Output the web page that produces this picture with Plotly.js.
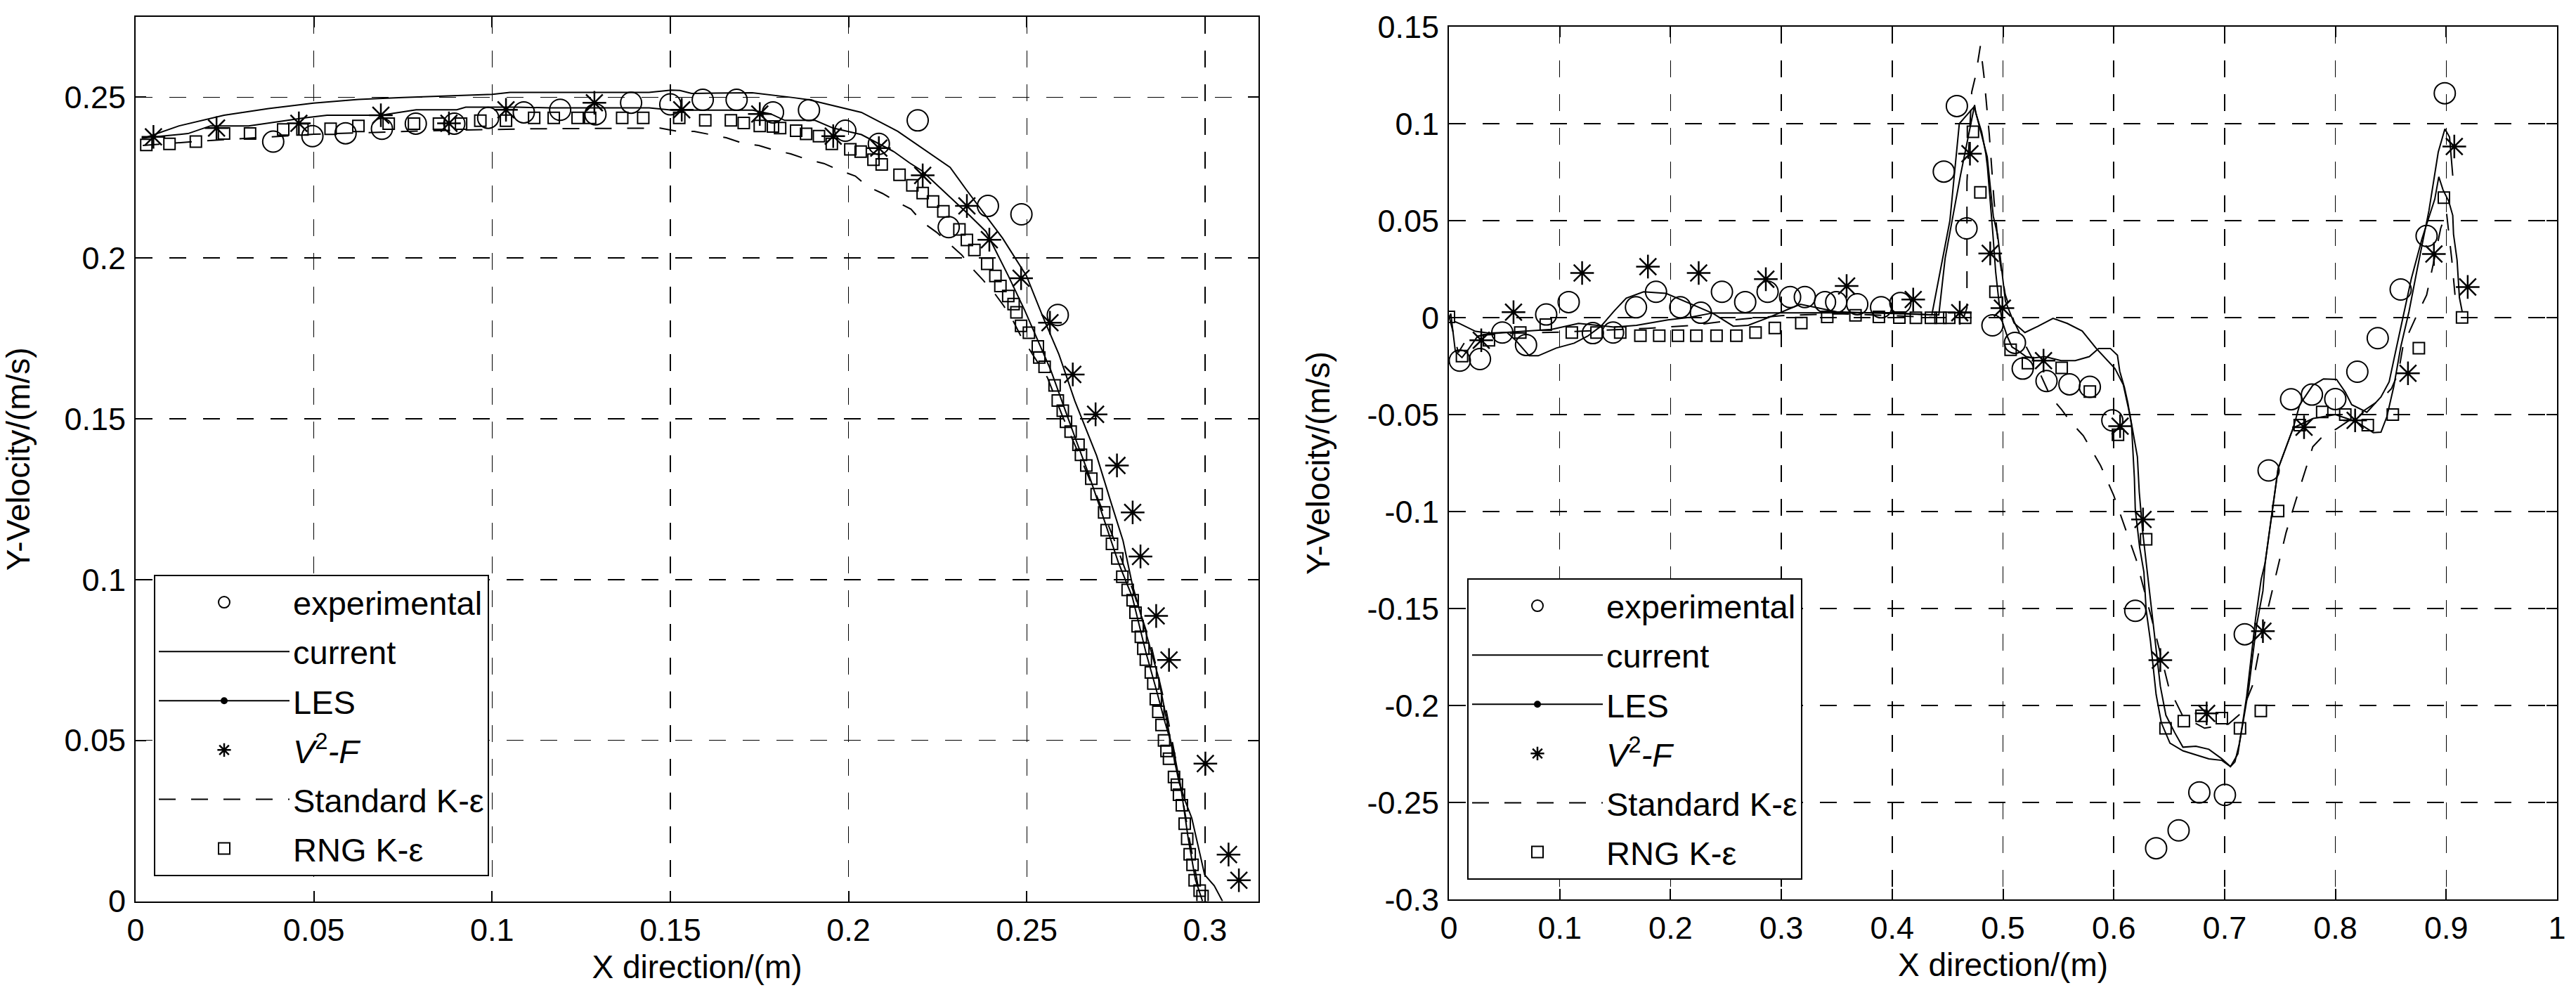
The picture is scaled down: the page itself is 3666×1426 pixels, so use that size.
<!DOCTYPE html>
<html><head><meta charset="utf-8">
<script src="https://cdn.plot.ly/plotly-3.0.1.min.js"></script>
<style>html,body{margin:0;padding:0;background:#fff}#chart{width:3666px;height:1426px}</style>
</head><body><div id="chart"></div><script>
// ---------------- LEFT PANEL DATA ----------------
const leftExpX = [0.0386,0.0496,0.0589,0.0691,0.0786,0.0894,0.0989,0.1089,0.1191,0.1290,0.1390,0.1500,0.1591,0.1686,0.1788,0.1889,0.1991,0.2085,0.2194,0.2281,0.2391,0.2485,0.2587];
const leftExpY = [0.2362,0.2379,0.2388,0.2402,0.2418,0.2418,0.2436,0.2453,0.2461,0.2447,0.2483,0.2478,0.2492,0.2492,0.2453,0.2460,0.2396,0.2355,0.2428,0.2096,0.2162,0.2136,0.1823];

const leftCurX = [0.0024,0.0122,0.0248,0.0373,0.0499,0.0625,0.0750,0.1001,0.1050,0.1440,0.1503,0.1527,0.1560,0.1730,0.1844,0.1889,0.2036,0.2138,0.2285,0.2330,0.2432,0.2499,0.2545,0.2590,0.2635,0.2658,0.2696,0.2734,0.2770,0.2796,0.2835,0.2868,0.2894,0.2907,0.2927,0.2945,0.2963,0.2985,0.2999,0.3026,0.3049];
const leftCurY = [0.2373,0.2411,0.2444,0.2465,0.2482,0.2493,0.2499,0.2509,0.2515,0.2515,0.2522,0.2521,0.2512,0.2514,0.2499,0.2492,0.2453,0.2394,0.2282,0.2213,0.2062,0.1945,0.1818,0.1701,0.1555,0.1492,0.1385,0.1248,0.1121,0.0985,0.0829,0.0702,0.0555,0.0477,0.0370,0.0310,0.0258,0.0150,0.0082,0.0048,0.0000];

const leftLesX = [0.0017,0.0085,0.0147,0.0210,0.0317,0.0474,0.0537,0.0688,0.0787,0.0901,0.0926,0.1070,0.1164,0.1441,0.1505,0.1731,0.1782,0.1821,0.1906,0.1957,0.2036,0.2127,0.2171,0.2205,0.2281,0.2341,0.2386,0.2448,0.2494,0.2567,0.2638,0.2671,0.2704,0.2734,0.2757,0.2796,0.2835,0.2862,0.2888,0.2914,0.2934,0.2953,0.2973,0.2993];
const leftLesY = [0.2373,0.2381,0.2387,0.2411,0.2411,0.2436,0.2444,0.2444,0.2461,0.2461,0.2469,0.2469,0.2467,0.2467,0.2460,0.2460,0.2448,0.2428,0.2428,0.2404,0.2384,0.2331,0.2296,0.2272,0.2194,0.2131,0.2082,0.1945,0.1838,0.1652,0.1434,0.1336,0.1229,0.1131,0.1053,0.0946,0.0770,0.0663,0.0555,0.0458,0.0340,0.0194,0.0067,0.0000];

const leftV2fX = [0.0050,0.0227,0.0458,0.0688,0.0879,0.1039,0.1287,0.1532,0.1751,0.1957,0.2085,0.2208,0.2332,0.2395,0.2484,0.2565,0.2629,0.2693,0.2753,0.2797,0.2819,0.2863,0.2899,0.3001,0.3066,0.3095];
const leftV2fY = [0.2377,0.2404,0.2419,0.2444,0.2419,0.2461,0.2483,0.2461,0.2448,0.2379,0.2342,0.2257,0.2162,0.2057,0.1937,0.1799,0.1638,0.1514,0.1355,0.1209,0.1072,0.0887,0.0750,0.0428,0.0145,0.0065];

const leftSkeX = [0.0020,0.0200,0.0500,0.0800,0.1100,0.1426,0.1471,0.1522,0.1567,0.1612,0.1657,0.1703,0.1748,0.1793,0.1838,0.1885,0.1931,0.1976,0.2019,0.2053,0.2095,0.2137,0.2175,0.2208,0.2247,0.2282,0.2318,0.2344,0.2377,0.2409,0.2435,0.2460,0.2482,0.2558,0.2601,0.2650,0.2700,0.2750,0.2800,0.2850,0.2890,0.2925,0.2955,0.2980,0.2990];
const leftSkeY = [0.2350,0.2365,0.2385,0.2395,0.2402,0.2404,0.2404,0.2394,0.2394,0.2384,0.2374,0.2357,0.2350,0.2335,0.2324,0.2306,0.2294,0.2272,0.2255,0.2223,0.2201,0.2174,0.2152,0.2111,0.2080,0.2045,0.2009,0.1971,0.1932,0.1891,0.1852,0.1808,0.1760,0.1628,0.1506,0.1380,0.1250,0.1110,0.0960,0.0790,0.0600,0.0400,0.0200,0.0050,0.0000];

const leftRngX = [0.0030,0.0095,0.0169,0.0248,0.0321,0.0414,0.0468,0.0547,0.0625,0.0710,0.0781,0.0851,0.0913,0.0967,0.1039,0.1118,0.1173,0.1240,0.1275,0.1365,0.1424,0.1525,0.1598,0.1670,0.1706,0.1751,0.1788,0.1808,0.1853,0.1881,0.1917,0.1953,0.2005,0.2034,0.2070,0.2093,0.2143,0.2179,0.2208,0.2237,0.2266,0.2311,0.2332,0.2353,0.2389,0.2412,0.2426,0.2448,0.2463,0.2471,0.2484,0.2506,0.2531,0.2535,0.2550,0.2578,0.2587,0.2601,0.2610,0.2623,0.2645,0.2652,0.2667,0.2681,0.2696,0.2717,0.2724,0.2739,0.2754,0.2768,0.2783,0.2797,0.2805,0.2811,0.2820,0.2827,0.2834,0.2848,0.2855,0.2862,0.2869,0.2878,0.2885,0.2892,0.2899,0.2913,0.2921,0.2927,0.2935,0.2943,0.2950,0.2957,0.2965,0.2971,0.2985,0.2993];
const leftRngY = [0.2352,0.2355,0.2362,0.2387,0.2387,0.2400,0.2400,0.2402,0.2411,0.2418,0.2418,0.2418,0.2418,0.2427,0.2427,0.2436,0.2436,0.2436,0.2436,0.2436,0.2436,0.2436,0.2428,0.2428,0.2420,0.2411,0.2409,0.2404,0.2396,0.2386,0.2379,0.2355,0.2338,0.2331,0.2306,0.2291,0.2259,0.2226,0.2202,0.2176,0.2145,0.2089,0.2056,0.2025,0.1982,0.1944,0.1913,0.1882,0.1857,0.1831,0.1789,0.1768,0.1725,0.1691,0.1662,0.1604,0.1557,0.1525,0.1491,0.1460,0.1419,0.1388,0.1355,0.1314,0.1266,0.1209,0.1154,0.1111,0.1066,0.1009,0.0968,0.0936,0.0897,0.0855,0.0822,0.0785,0.0751,0.0711,0.0677,0.0628,0.0589,0.0548,0.0500,0.0467,0.0443,0.0386,0.0362,0.0331,0.0298,0.0241,0.0194,0.0146,0.0113,0.0065,0.0033,0.0016];

// ---------------- RIGHT PANEL DATA ----------------
const rightExpX = [0.0098,0.0280,0.0482,0.0696,0.0878,0.1081,0.1299,0.1481,0.1688,0.1869,0.2088,0.2274,0.2464,0.2674,0.2876,0.3079,0.3212,0.3394,0.3495,0.3685,0.3900,0.4074,0.4466,0.4584,0.4671,0.4905,0.5108,0.5178,0.5393,0.5600,0.5784,0.5987,0.6194,0.6382,0.6585,0.6772,0.7003,0.7182,0.7397,0.7600,0.7788,0.7999,0.8198,0.8382,0.8589,0.8823,0.8987];
const rightExpY = [-0.0222,-0.0214,-0.0077,-0.0141,0.0016,0.0080,-0.0080,-0.0077,0.0053,0.0133,0.0053,0.0025,0.0133,0.0080,0.0133,0.0106,0.0106,0.0080,0.0080,0.0069,0.0053,0.0075,0.0753,0.1091,0.0460,-0.0040,-0.0130,-0.0263,-0.0327,-0.0344,-0.0357,-0.0530,-0.1512,-0.2736,-0.2644,-0.2448,-0.2461,-0.1633,-0.0788,-0.0421,-0.0397,-0.0420,-0.0279,-0.0106,0.0145,0.0421,0.1157];

const rightCurX = [0.0000,0.0017,0.0058,0.0118,0.0179,0.0260,0.0361,0.0523,0.0928,0.1170,0.1491,0.1693,0.1976,0.2179,0.2381,0.3000,0.3500,0.4000,0.4358,0.4521,0.4606,0.4741,0.4807,0.4858,0.4913,0.4952,0.5022,0.5100,0.5198,0.5315,0.5452,0.5580,0.5715,0.5842,0.6011,0.6086,0.6149,0.6213,0.6230,0.6260,0.6300,0.6340,0.6380,0.6420,0.6470,0.6550,0.6624,0.6741,0.6858,0.6975,0.7053,0.7120,0.7160,0.7200,0.7240,0.7280,0.7330,0.7366,0.7405,0.7483,0.7620,0.7800,0.8000,0.8186,0.8342,0.8411,0.8464,0.8527,0.8590,0.8664,0.8738,0.8844,0.8928,0.8988,0.9030,0.9059];
const rightCurY = [0.0000,0.0020,-0.0174,-0.0206,-0.0161,-0.0096,-0.0084,-0.0076,-0.0061,-0.0030,-0.0049,-0.0040,-0.0012,0.0002,0.0024,0.0025,0.0025,0.0025,0.0014,0.0500,0.1000,0.1088,0.0942,0.0829,0.0522,0.0425,0.0085,-0.0028,-0.0077,-0.0045,-0.0004,-0.0030,-0.0069,-0.0159,-0.0263,-0.0346,-0.0512,-0.0718,-0.0900,-0.1100,-0.1300,-0.1500,-0.1700,-0.1900,-0.2050,-0.2140,-0.2215,-0.2210,-0.2226,-0.2275,-0.2315,-0.2250,-0.2100,-0.1950,-0.1750,-0.1550,-0.1350,-0.1264,-0.1102,-0.0779,-0.0568,-0.0520,-0.0500,-0.0536,-0.0593,-0.0591,-0.0512,-0.0355,-0.0150,0.0031,0.0249,0.0551,0.0853,0.0973,0.0931,0.0732];

const rightLesX = [0.0050,0.0098,0.0240,0.0361,0.0523,0.0604,0.0725,0.0806,0.0968,0.1130,0.1251,0.1373,0.1494,0.1600,0.1757,0.1959,0.2222,0.2384,0.2566,0.2700,0.2869,0.3172,0.3500,0.4000,0.4421,0.4478,0.4617,0.4744,0.4755,0.4808,0.4845,0.4860,0.4892,0.4909,0.4934,0.4966,0.4998,0.5039,0.5082,0.5124,0.5209,0.5272,0.5378,0.5525,0.5652,0.5779,0.5863,0.5969,0.6033,0.6054,0.6096,0.6128,0.6160,0.6177,0.6186,0.6194,0.6233,0.6272,0.6292,0.6331,0.6382,0.6429,0.6507,0.6624,0.6741,0.6858,0.6975,0.7053,0.7093,0.7131,0.7171,0.7218,0.7249,0.7288,0.7346,0.7366,0.7405,0.7483,0.7620,0.7678,0.7796,0.7893,0.8010,0.8089,0.8147,0.8284,0.8411,0.8485,0.8548,0.8622,0.8685,0.8781,0.8897,0.8933,0.8971,0.9023,0.9059,0.9066,0.9098,0.9119,0.9144];
const rightLesY = [-0.0020,-0.0031,-0.0071,-0.0080,-0.0076,-0.0118,-0.0197,-0.0197,-0.0157,-0.0132,-0.0096,-0.0044,0.0036,0.0100,0.0133,0.0125,0.0061,0.0021,-0.0044,-0.0040,-0.0003,0.0069,0.0030,0.0020,0.0014,0.0306,0.0735,0.1096,0.1054,0.0957,0.0846,0.0777,0.0569,0.0431,0.0236,0.0070,-0.0027,-0.0097,-0.0152,-0.0166,-0.0201,-0.0208,-0.0201,-0.0222,-0.0222,-0.0201,-0.0159,-0.0159,-0.0194,-0.0277,-0.0360,-0.0443,-0.0554,-0.0718,-0.0828,-0.0989,-0.1183,-0.1313,-0.1507,-0.1668,-0.1943,-0.2089,-0.2194,-0.2234,-0.2254,-0.2275,-0.2283,-0.2315,-0.2291,-0.2202,-0.2073,-0.1911,-0.1766,-0.1588,-0.1409,-0.1264,-0.1102,-0.0779,-0.0568,-0.0449,-0.0349,-0.0316,-0.0319,-0.0384,-0.0449,-0.0488,-0.0409,-0.0331,-0.0162,0.0031,0.0200,0.0406,0.0611,0.0726,0.0659,0.0599,0.0527,0.0430,0.0297,0.0104,0.0031];

const rightV2fX = [0.0292,0.0583,0.1202,0.1796,0.2254,0.2860,0.3589,0.4190,0.4610,0.4702,0.4885,0.4995,0.5366,0.6057,0.6264,0.6420,0.6838,0.7346,0.7717,0.8178,0.8655,0.8889,0.9073,0.9194];
const rightV2fY = [-0.0117,0.0028,0.0230,0.0263,0.0230,0.0198,0.0163,0.0093,0.0025,0.0845,0.0331,0.0049,-0.0222,-0.0560,-0.1041,-0.1766,-0.2041,-0.1617,-0.0565,-0.0530,-0.0287,0.0328,0.0882,0.0158];

const rightSkeX = [0.0000,0.0085,0.0150,0.0300,0.0600,0.1000,0.1400,0.1800,0.2200,0.2600,0.3000,0.3500,0.4000,0.4400,0.4645,0.4675,0.4675,0.4718,0.4754,0.4796,0.4828,0.4849,0.4877,0.4920,0.4970,0.5020,0.5100,0.5200,0.5320,0.5430,0.5525,0.5608,0.5725,0.5881,0.5999,0.6202,0.6350,0.6498,0.6624,0.6819,0.7034,0.7151,0.7250,0.7350,0.7483,0.7554,0.7639,0.7737,0.7796,0.7871,0.8017,0.8411,0.8505,0.8569,0.8611,0.8734,0.8823,0.8918,0.8950,0.9002,0.9050,0.9090];
const rightSkeY = [0.0010,-0.0180,-0.0120,-0.0090,-0.0080,-0.0075,-0.0065,-0.0055,-0.0040,-0.0010,0.0010,0.0020,0.0010,0.0000,0.0000,0.0050,0.0700,0.1163,0.1250,0.1401,0.1248,0.1117,0.0941,0.0600,0.0300,0.0120,-0.0020,-0.0140,-0.0270,-0.0408,-0.0471,-0.0536,-0.0609,-0.0763,-0.0916,-0.1247,-0.1571,-0.1910,-0.2056,-0.2117,-0.2096,-0.2039,-0.1900,-0.1600,-0.1280,-0.1110,-0.0949,-0.0771,-0.0666,-0.0621,-0.0571,-0.0421,-0.0367,-0.0283,-0.0144,0.0012,0.0116,0.0370,0.0460,0.0545,0.0300,0.0050];

const rightRngX = [0.0000,0.0118,0.0361,0.0644,0.0874,0.1109,0.1332,0.1546,0.1728,0.1898,0.2067,0.2233,0.2415,0.2594,0.2767,0.2941,0.3180,0.3414,0.3669,0.3880,0.4065,0.4214,0.4350,0.4436,0.4515,0.4659,0.4729,0.4796,0.4932,0.5069,0.5225,0.5530,0.5784,0.6038,0.6292,0.6467,0.6632,0.6792,0.6975,0.7139,0.7327,0.7483,0.7678,0.7881,0.8089,0.8292,0.8518,0.8753,0.8979,0.9143];
const rightRngY = [0.0004,-0.0198,-0.0117,-0.0077,-0.0036,-0.0077,-0.0077,-0.0077,-0.0093,-0.0093,-0.0093,-0.0093,-0.0093,-0.0093,-0.0077,-0.0053,-0.0028,0.0004,0.0012,0.0004,0.0000,-0.0001,-0.0001,-0.0001,-0.0001,-0.0001,0.0958,0.0646,0.0133,-0.0166,-0.0235,-0.0259,-0.0381,-0.0604,-0.1143,-0.2118,-0.2081,-0.2053,-0.2065,-0.2118,-0.2028,-0.0997,-0.0554,-0.0486,-0.0500,-0.0554,-0.0500,-0.0158,0.0619,0.0001];

// ---------------- TICKS ----------------
const leftXTickVals = [0,0.05,0.1,0.15,0.2,0.25,0.3];
const leftXTickText = ['0','0.05','0.1','0.15','0.2','0.25','0.3'];
const leftYTickVals = [0,0.05,0.1,0.15,0.2,0.25];
const leftYTickText = ['0','0.05','0.1','0.15','0.2','0.25'];
const rightXTickVals = [0,0.1,0.2,0.3,0.4,0.5,0.6,0.7,0.8,0.9,1];
const rightXTickText = ['0','0.1','0.2','0.3','0.4','0.5','0.6','0.7','0.8','0.9','1'];
const rightYTickVals = [-0.3,-0.25,-0.2,-0.15,-0.1,-0.05,0,0.05,0.1,0.15];
const rightYTickText = ['-0.3','-0.25','-0.2','-0.15','-0.1','-0.05','0','0.05','0.1','0.15'];

const legendNames = ['experimental','current','LES','<i>V</i><sup>2</sup><i>-F</i>','Standard K-\u03b5','RNG K-\u03b5'];

// ---------------- BUILD ----------------
const W = 3666, H = 1426;
const FONT = 'Liberation Sans, Arial, sans-serif';
const BLACK = '#000';

function panelTraces(xa, ya, leg, d, gp) {
  const base = {xaxis: xa, yaxis: ya, legend: leg, type: 'scatter'};
  return [
    Object.assign({}, base, {name: legendNames[0], legendgroup: gp+'1', x: d.expX, y: d.expY, mode: 'markers',
      marker: {symbol: 'circle-open', size: 30, color: BLACK, line: {width: 2, color: BLACK}}}),
    Object.assign({}, base, {name: legendNames[1], legendgroup: gp+'2', x: d.curX, y: d.curY, mode: 'lines',
      line: {color: BLACK, width: 2}}),
    // legend entry for LES (line with dot); the LES curve itself is drawn by the next trace
    Object.assign({}, base, {name: legendNames[2], legendgroup: gp+'3', x: [null], y: [null], mode: 'lines+markers',
      line: {color: BLACK, width: 2}, marker: {symbol: 'circle', size: 10, color: BLACK}}),
    Object.assign({}, base, {name: legendNames[2], legendgroup: gp+'3', showlegend: false, x: d.lesX, y: d.lesY, mode: 'lines',
      line: {color: BLACK, width: 2}}),
    Object.assign({}, base, {name: legendNames[3], legendgroup: gp+'4', x: d.v2fX, y: d.v2fY, mode: 'markers',
      marker: {symbol: 'asterisk-open', size: 28, color: BLACK, line: {width: 2.5, color: BLACK}}}),
    Object.assign({}, base, {name: legendNames[4], legendgroup: gp+'5', x: d.skeX, y: d.skeY, mode: 'lines',
      line: {color: BLACK, width: 2, dash: '24px,22px'}}),
    Object.assign({}, base, {name: legendNames[5], legendgroup: gp+'6', x: d.rngX, y: d.rngY, mode: 'markers',
      marker: {symbol: 'square-open', size: 16, color: BLACK, line: {width: 2, color: BLACK}}})
  ];
}

const traces = [].concat(
  panelTraces('x', 'y', 'legend', {expX: leftExpX, expY: leftExpY, curX: leftCurX, curY: leftCurY, lesX: leftLesX, lesY: leftLesY,
    v2fX: leftV2fX, v2fY: leftV2fY, skeX: leftSkeX, skeY: leftSkeY, rngX: leftRngX, rngY: leftRngY}, 'L'),
  panelTraces('x2', 'y2', 'legend2', {expX: rightExpX, expY: rightExpY, curX: rightCurX, curY: rightCurY, lesX: rightLesX, lesY: rightLesY,
    v2fX: rightV2fX, v2fY: rightV2fY, skeX: rightSkeX, skeY: rightSkeY, rngX: rightRngX, rngY: rightRngY}, 'R')
);

function axisCommon(extra) {
  return Object.assign({
    showline: true, linecolor: BLACK, linewidth: 2, mirror: 'ticks',
    ticks: 'inside', ticklen: 15, tickwidth: 2, tickcolor: BLACK,
    showgrid: true, gridcolor: BLACK, gridwidth: 1.5, griddash: '24px,24px',
    zeroline: false, tickmode: 'array', automargin: false,
    tickfont: {family: FONT, size: 45, color: BLACK}
  }, extra);
}

const L = {l: 193, r: 1791, t: 24, b: 1282.5};
const R = {l: 2062, r: 3639, t: 38, b: 1280};
const titleFont = {family: FONT, size: 46, color: BLACK};

function legendBox(px, py) {
  return {x: px / W, y: 1 - py / H, xanchor: 'left', yanchor: 'top',
    bgcolor: '#fff', bordercolor: BLACK, borderwidth: 2,
    font: {family: FONT, size: 47, color: BLACK}, itemwidth: 186, tracegroupgap: 6,
    traceorder: 'grouped', valign: 'middle', itemclick: false, itemdoubleclick: false};
}

const layout = {
  width: W, height: H,
  margin: {l: 0, r: 0, t: 0, b: 0, pad: 0},
  paper_bgcolor: '#fff', plot_bgcolor: '#fff',
  font: {family: FONT, color: BLACK},
  xaxis: axisCommon({domain: [L.l / W, L.r / W], anchor: 'y', range: [0, 0.315],
    tickvals: leftXTickVals, ticktext: leftXTickText, ticklabelstandoff: 0,
    title: {text: 'X direction/(m)', font: titleFont, standoff: 12}}),
  yaxis: axisCommon({domain: [1 - L.b / H, 1 - L.t / H], anchor: 'x', range: [0, 0.275],
    tickvals: leftYTickVals, ticktext: leftYTickText, ticklabelstandoff: 3,
    title: {text: 'Y-Velocity/(m/s)', font: titleFont, standoff: 38}}),
  xaxis2: axisCommon({domain: [R.l / W, R.r / W], anchor: 'y2', range: [0, 1],
    tickvals: rightXTickVals, ticktext: rightXTickText, ticklabelstandoff: 0,
    title: {text: 'X direction/(m)', font: titleFont, standoff: 12}}),
  yaxis2: axisCommon({domain: [1 - R.b / H, 1 - R.t / H], anchor: 'x2', range: [-0.3, 0.15],
    tickvals: rightYTickVals, ticktext: rightYTickText, ticklabelstandoff: 3,
    title: {text: 'Y-Velocity/(m/s)', font: titleFont, standoff: 38}}),
  legend: legendBox(219, 818),
  legend2: legendBox(2088, 823),
  showlegend: true
};

Plotly.newPlot('chart', traces, layout, {staticPlot: true, displayModeBar: false});
</script></body></html>
